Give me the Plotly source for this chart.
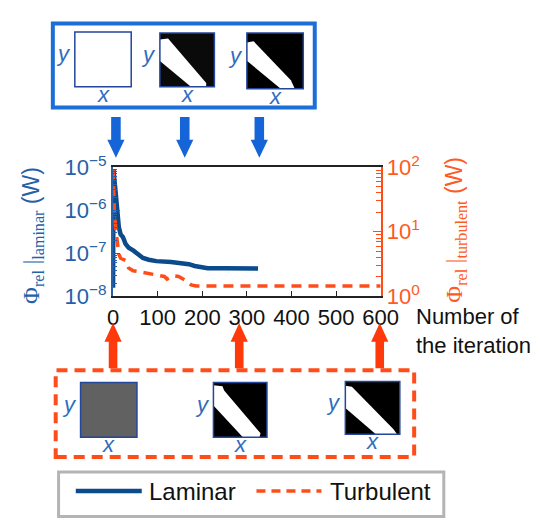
import plotly.graph_objects as go

# ---------------- data ----------------
lam_iter = [0, 1, 3, 5, 7, 10, 13, 17, 22, 28, 35, 45, 55, 67, 80, 97, 130, 162, 170, 183, 200, 212, 250, 300, 325]
lam_val = [1.6e-8, 8.9e-6, 5.0e-6, 3.2e-6, 1.8e-6, 9.1e-7, 4.0e-7, 2.75e-7, 2.4e-7, 1.66e-7, 1.35e-7,
           1.17e-7, 1.0e-7, 7.8e-8, 7.1e-8, 6.6e-8, 6.3e-8, 6.0e-8, 5.6e-8, 5.1e-8, 4.7e-8, 4.5e-8,
           4.5e-8, 4.45e-8, 4.45e-8]
tur_iter = [0, 1, 3, 6, 10, 13, 17, 28, 35, 45, 60, 90, 115, 121, 128, 136, 147, 155, 162, 175, 186, 600]
tur_val = [93, 40, 20, 11.2, 6.5, 4.5, 3.9, 3.6, 2.75, 2.5, 2.4, 2.19, 2.04, 1.86, 1.95, 2.09, 2.04,
           1.9, 1.78, 1.51, 1.45, 1.45]
x_ticks = [0, 100, 200, 300, 400, 500, 600]
left_ticks = [1e-8, 1e-7, 1e-6, 1e-5]
left_tick_text = ["10<sup>−8</sup>", "10<sup>−7</sup>", "10<sup>−6</sup>", "10<sup>−5</sup>"]
right_ticks = [1, 10, 100]
right_tick_text = ["10<sup>0</sup>", "10<sup>1</sup>", "10<sup>2</sup>"]
left_minor = [m * 10.0 ** e for e in (-8, -7, -6) for m in range(2, 10)]
right_minor = [m * 10.0 ** e for e in (0, 1) for m in range(2, 10)]

# ---------------- style ----------------
W, H = 544, 521
LAM = "#0b4a8b"
LAM_TXT = "#2660a8"
TUR = "#ff4d1a"
TUR_TXT = "#ff5a22"
BOX_BLUE = "#1b6fd6"
ARR_BLUE = "#1565d8"
ARR_OR = "#ff3a0a"
FONT = "Liberation Sans"
PL, PR, PT, PB = 112, 392, 160, 297


def X(px):
    return px / W


def Y(py):
    return 1 - py / H


fig = go.Figure()
fig.add_trace(go.Scatter(x=lam_iter, y=lam_val, mode="lines", name="Laminar",
                         line=dict(color=LAM, width=4.5), showlegend=False))
fig.add_trace(go.Scatter(x=tur_iter, y=tur_val, mode="lines", name="Turbulent", yaxis="y2",
                         line=dict(color=TUR, width=3.5, dash="10px,7px"), showlegend=False))

shapes = []
ann = []

# blue box with images (top)
shapes.append(dict(type="rect", xref="paper", yref="paper", x0=X(49), x1=X(323), y0=Y(97), y1=Y(8),
                   line=dict(color=BOX_BLUE, width=4)))
# orange dashed box (bottom)
shapes.append(dict(type="rect", xref="paper", yref="paper", x0=X(52), x1=X(427), y0=Y(467), y1=Y(375),
                   line=dict(color=TUR, width=4, dash="11px,7px")))


def image(x0, y0, x1, y1, fill, band=None):
    shapes.append(dict(type="rect", xref="paper", yref="paper", x0=X(x0), x1=X(x1), y0=Y(y1), y1=Y(y0),
                       fillcolor=fill, line=dict(width=0)))
    if band:
        pts = [(X(x0 + u * (x1 - x0)), Y(y0 + v * (y1 - y0))) for u, v in band]
        path = "M " + " L ".join(f"{a:.5f},{b:.5f}" for a, b in pts) + " Z"
        shapes.append(dict(type="path", xref="paper", yref="paper", path=path,
                           fillcolor="white", line=dict(width=0)))
    shapes.append(dict(type="rect", xref="paper", yref="paper", x0=X(x0), x1=X(x1), y0=Y(y1), y1=Y(y0),
                       line=dict(color="#23479a", width=1.5)))
    ann.append(dict(text="<i>y</i>", x=X(x0 - 3), y=Y((y0 + y1) / 2 - 6), xref="paper", yref="paper",
                    xanchor="right", yanchor="middle", showarrow=False, borderpad=0,
                    font=dict(family=FONT, size=22, color="#2f6cc0")))
    ann.append(dict(text="<i>x</i>", x=X((x0 + x1) / 2), y=Y(y1 + 8), xref="paper", yref="paper",
                    xanchor="center", yanchor="middle", showarrow=False, borderpad=0,
                    font=dict(family=FONT, size=22, color="#2f6cc0")))


band_t2 = [(0, 0.12), (0.15, 0.1), (0.85, 0.93), (0.85, 1), (0.57, 1), (0, 0.52)]
band_t3 = [(0, 0.17), (0.12, 0.15), (0.78, 0.85), (0.85, 1), (0.6, 1), (0, 0.5)]
band_b2 = [(0, 0.05), (0.17, 0.07), (0.2, 0.15), (0.88, 0.93), (0.86, 1), (0.55, 1), (0, 0.42)]
band_b3 = [(0, 0.08), (0.12, 0.1), (0.88, 0.9), (0.95, 1), (0.56, 1), (0, 0.5)]

image(72, 17, 131, 75, "white")
image(161, 18, 218, 75, "#0a0a0a", band_t2)
image(252, 18, 311, 77, "black", band_t3)
image(78, 388, 137, 446, "#616161")
image(217, 388, 273, 446, "black", band_b2)
image(355, 387, 412, 443, "black", band_b3)


def arrow_down(cx):
    pts = [(cx - 5, 107), (cx + 5, 107), (cx + 5, 131), (cx + 9, 131), (cx, 150), (cx - 9, 131), (cx - 5, 131)]
    path = "M " + " L ".join(f"{X(a):.5f},{Y(b):.5f}" for a, b in pts) + " Z"
    shapes.append(dict(type="path", xref="paper", yref="paper", path=path, fillcolor=ARR_BLUE, line=dict(width=0)))


def arrow_up(cx):
    pts = [(cx, 325), (cx + 9, 345), (cx + 4.5, 345), (cx + 4.5, 373), (cx - 4.5, 373), (cx - 4.5, 345), (cx - 9, 345)]
    path = "M " + " L ".join(f"{X(a):.5f},{Y(b):.5f}" for a, b in pts) + " Z"
    shapes.append(dict(type="path", xref="paper", yref="paper", path=path, fillcolor=ARR_OR, line=dict(width=0)))


for cx in (115, 187, 265):
    arrow_down(cx)
for cx in (112, 244, 391):
    arrow_up(cx)

# legend (drawn)
shapes.append(dict(type="rect", xref="paper", yref="paper", x0=X(55), x1=X(458), y0=Y(530), y1=Y(483),
                   line=dict(color="#b4b4b4", width=3)))
shapes.append(dict(type="line", xref="paper", yref="paper", x0=X(73), x1=X(142), y0=Y(503), y1=Y(503),
                   line=dict(color=LAM, width=4.5)))
shapes.append(dict(type="line", xref="paper", yref="paper", x0=X(262), x1=X(330), y0=Y(503), y1=Y(503),
                   line=dict(color=TUR, width=3.5, dash="9px,6px")))
ann.append(dict(text="Laminar", x=X(148), y=Y(503), xref="paper", yref="paper", xanchor="left",
                yanchor="middle", showarrow=False, font=dict(family=FONT, size=24, color="#111")))
ann.append(dict(text="Turbulent", x=X(337), y=Y(503), xref="paper", yref="paper", xanchor="left",
                yanchor="middle", showarrow=False, font=dict(family=FONT, size=24, color="#111")))

# axis titles
ann.append(dict(text='<span style="font-family:Liberation Serif">Φ<sub>rel</sub> |<sub>laminar</sub></span> (W)',
                x=X(27), y=Y(232), xref="paper", yref="paper", xanchor="center", yanchor="middle",
                textangle=-90, showarrow=False, font=dict(family=FONT, size=23, color=LAM_TXT)))
ann.append(dict(text='<span style="font-family:Liberation Serif">Φ<sub>rel</sub> |<sub>turbulent</sub></span> (W)',
                x=X(470), y=Y(226), xref="paper", yref="paper", xanchor="center", yanchor="middle",
                textangle=-90, showarrow=False, font=dict(family=FONT, size=23, color=TUR_TXT)))
ann.append(dict(text="Number of<br>the iteration", x=X(428), y=Y(334), xref="paper", yref="paper",
                xanchor="left", yanchor="middle", align="left", showarrow=False, borderpad=0,
                font=dict(family=FONT, size=22, color="#111")))

fig.update_layout(
    width=W, height=H, margin=dict(l=0, r=0, t=0, b=0),
    paper_bgcolor="white", plot_bgcolor="white",
    font=dict(family=FONT),
    shapes=shapes, annotations=ann,
    xaxis=dict(domain=[X(PL), X(PR)], range=[0, 600], tickvals=x_ticks, ticks="inside", ticklen=6,
               tickcolor="#222", showline=True, linecolor="#222", linewidth=1.5, mirror=True,
               showgrid=False, zeroline=False, tickfont=dict(size=22, color="#111")),
    yaxis=dict(domain=[Y(PB), Y(PT)], type="log", range=[-8, -5], tickvals=left_ticks,
               ticktext=left_tick_text, ticks="inside", ticklen=7, tickcolor=LAM_TXT,
               minor=dict(ticks="inside", ticklen=4, tickcolor=LAM_TXT, tickmode="array",
                          tickvals=left_minor, showgrid=False),
               showline=True, linecolor=LAM_TXT, linewidth=2, showgrid=False, zeroline=False,
               tickfont=dict(size=22, color=LAM_TXT)),
    yaxis2=dict(domain=[Y(PB), Y(PT)], type="log", range=[0, 2], overlaying="y", side="right",
                anchor="x", tickvals=right_ticks, ticktext=right_tick_text, ticks="inside", ticklen=8,
                tickcolor=TUR, minor=dict(ticks="inside", ticklen=5, tickcolor=TUR, tickmode="array",
                                          tickvals=right_minor, showgrid=False),
                showline=True, linecolor=TUR, linewidth=1.5, showgrid=False, zeroline=False,
                tickfont=dict(size=22, color=TUR_TXT)),
)

fig.write_html("out.html")
